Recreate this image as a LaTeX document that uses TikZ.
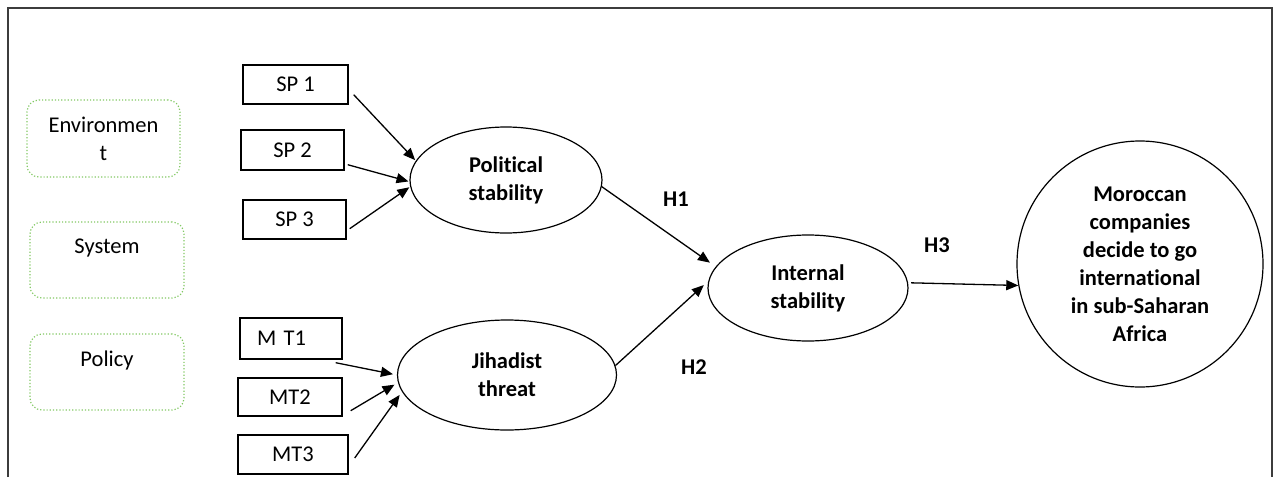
\documentclass[tikz,border=0pt]{standalone}
\usepackage{fontspec}
\setmainfont{Carlito}[Ligatures={NoCommon}]
\usetikzlibrary{arrows.meta,shapes.geometric}
\definecolor{dotgreen}{RGB}{130,200,100}
\definecolor{framegray}{RGB}{60,60,60}
\tikzset{
  txt/.style={font=\fontsize{22.5}{28}\selectfont},
  btxt/.style={font=\fontsize{22.5}{28}\selectfont\bfseries},
  itembox/.style={draw=black, line width=1.4pt, inner sep=0pt, txt},
  greenbox/.style={draw=dotgreen, dotted, line width=1.2pt, rounded corners=12pt, inner sep=0pt},
  glbl/.style={anchor=north, inner sep=0pt, yshift=-17pt, align=center, txt},
  oval/.style={draw=black, line width=1.2pt, ellipse, inner sep=0pt, align=center, btxt},
  hlbl/.style={btxt, inner sep=0pt},
  arr/.style={line width=1.3pt, -{Triangle[length=12pt,width=10pt]}},
}
\begin{document}
\begin{tikzpicture}[x=1pt,y=-1pt]
\useasboundingbox (0,0) rectangle (1275,477);
% frame (open at bottom)
\draw[framegray, line width=2pt] (8,477) -- (8,8) -- (1272,8) -- (1272,477);
% green dotted boxes
\node[greenbox, minimum width=153pt, minimum height=77pt,
      label={[glbl]north:Environmen\\t}] (env) at (103.5,138.5) {};
\node[greenbox, minimum width=154pt, minimum height=76pt,
      label={[glbl]north:System}] (sys) at (107,260) {};
\node[greenbox, minimum width=154pt, minimum height=76pt,
      label={[glbl]north:Policy}] (pol) at (107,372) {};
% indicator boxes
\node[itembox, minimum width=105pt, minimum height=39pt] (sp1) at (295.5,84.5) {SP 1};
\node[itembox, minimum width=103pt, minimum height=40pt] (sp2) at (292.5,150) {SP 2};
\node[itembox, minimum width=103pt, minimum height=39pt] (sp3) at (294.5,219.5) {SP 3};
\node[itembox, minimum height=41pt, inner xsep=17pt, text width=68pt, align=left] (mt1) at (291,338.5) {M T1};
\node[itembox, minimum width=104pt, minimum height=38pt] (mt2) at (290,397) {MT2};
\node[itembox, minimum width=110pt, minimum height=39pt] (mt3) at (293,454.5) {MT3};
% latent variables
\node[oval, minimum width=192pt, minimum height=106pt] (ps) at (506,180) {Political\\stability};
\node[oval, minimum width=219pt, minimum height=110pt] (jt) at (507,375) {Jihadist\\threat};
\node[oval, minimum width=200pt, minimum height=106pt] (is) at (808,288) {Internal\\stability};
\node[draw=black, line width=1.2pt, circle, minimum size=246pt, inner sep=0pt, align=center, btxt] (mc) at (1140,264)
  {Moroccan\\companies\\decide to go\\international\\in sub-Saharan\\Africa};
% hypothesis labels
\node[hlbl] (h1) at (676,199) {H1};
\node[hlbl] (h2) at (694,367) {H2};
\node[hlbl] (h3) at (937,245) {H3};
% connectors
\draw[arr, shorten >=1pt] ([shift={(5,-10)}]sp1.south east) -- (ps.168);
\draw[arr, shorten >=1pt] ([shift={(3,-6)}]sp2.south east) -- (ps.181);
\draw[arr, shorten >=1pt] ([shift={(3,-11)}]sp3.south east) -- (ps.184);
\draw[arr, shorten >=4pt] ([shift={(-7,3)}]mt1.south east) -- (jt.180);
\draw[arr, shorten >=4pt] ([shift={(8,-6)}]mt2.south east) -- (jt.184);
\draw[arr, shorten >=4pt] ([shift={(6,3.5)}]mt3.east) -- (jt.189);
\draw[arr, shorten >=7pt] (ps.356) -- (is.167);
\draw[arr, shorten >=6pt] (jt.5) -- (is.176);
\draw[arr, shorten <=3pt] (is.3) -- (mc.190);
\end{tikzpicture}
\end{document}
